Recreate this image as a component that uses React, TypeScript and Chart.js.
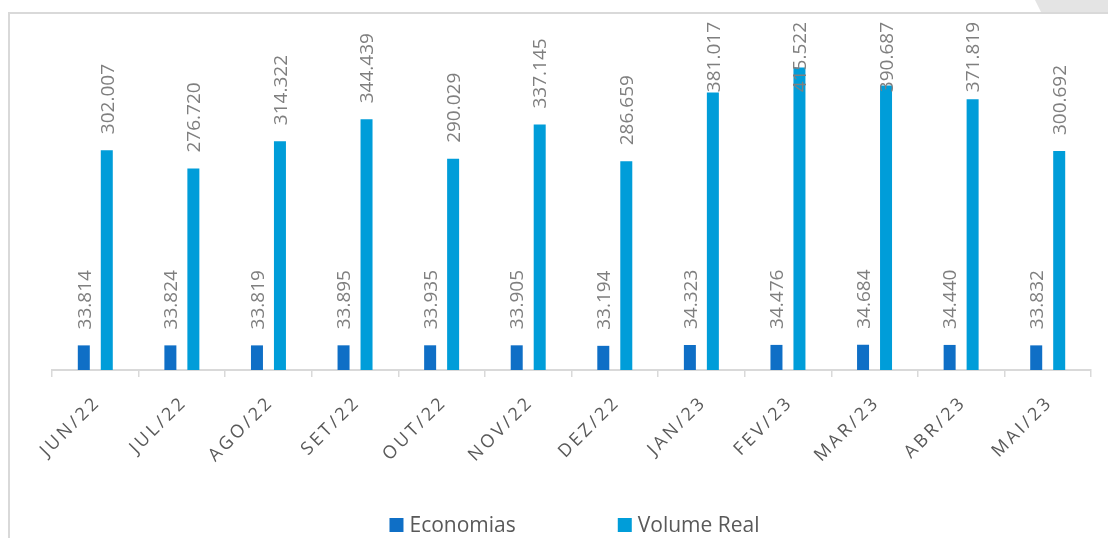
import React, { useEffect, useRef } from "react";
import { Chart, registerables } from "chart.js";

Chart.register(...registerables);

const categories = ["JUN/22", "JUL/22", "AGO/22", "SET/22", "OUT/22", "NOV/22", "DEZ/22", "JAN/23", "FEV/23", "MAR/23", "ABR/23", "MAI/23"];
const economias = [33814, 33824, 33819, 33895, 33935, 33905, 33194, 34323, 34476, 34684, 34440, 33832];
const volumeReal = [302007, 276720, 314322, 344439, 290029, 337145, 286659, 381017, 415522, 390687, 371819, 300692];
const seriesNames = ["Economias", "Volume Real"];
const seriesColors = ["#0F6FC6", "#009DD9"];

const FONT = "'Open Sans', 'DejaVu Sans', sans-serif";

function fmt(v: number): string {
  return Math.round(v).toString().replace(/\B(?=(\d{3})+(?!\d))/g, ".");
}

const customPlugin = {
  id: "customDraw",
  beforeDraw(chart: any) {
    const ctx = chart.ctx as CanvasRenderingContext2D;
    const W = chart.width;
    const H = chart.height;
    ctx.save();
    ctx.fillStyle = "#ffffff";
    ctx.fillRect(0, 0, W, H);
    ctx.fillStyle = "#e4e4e4";
    ctx.beginPath();
    ctx.moveTo(1035, 0);
    ctx.lineTo(1041, 12);
    ctx.lineTo(W, 12);
    ctx.lineTo(W, 0);
    ctx.closePath();
    ctx.fill();
    ctx.strokeStyle = "#d9d9d9";
    ctx.lineWidth = 2;
    ctx.beginPath();
    ctx.moveTo(9, H);
    ctx.lineTo(9, 13);
    ctx.lineTo(W, 13);
    ctx.stroke();
    ctx.restore();
  },
  afterDraw(chart: any) {
    const ctx = chart.ctx as CanvasRenderingContext2D;
    const xScale = chart.scales.x;
    const area = chart.chartArea;
    // x labels
    ctx.save();
    ctx.fillStyle = "#595959";
    ctx.font = `18px ${FONT}`;
    (ctx as any).letterSpacing = "3px";
    ctx.textAlign = "right";
    ctx.textBaseline = "alphabetic";
    const labels = chart.data.labels as string[];
    labels.forEach((lab, i) => {
      const x = xScale.getPixelForValue(i);
      ctx.save();
      ctx.translate(x + 6, area.bottom + 33);
      ctx.rotate(-Math.PI / 4);
      ctx.fillText(lab, 0, 0);
      ctx.restore();
    });
    ctx.restore();

    // data labels
    ctx.save();
    ctx.fillStyle = "#7f7f7f";
    const fs = 19;
    ctx.font = `${fs}px ${FONT}`;
    ctx.textAlign = "left";
    ctx.textBaseline = "alphabetic";
    const cap = fs * 0.714;
    chart.data.datasets.forEach((ds: any, di: number) => {
      const meta = chart.getDatasetMeta(di);
      meta.data.forEach((el: any, i: number) => {
        const txt = fmt(ds.data[i]);
        const w = ctx.measureText(txt).width;
        let start = el.y - 16;
        if (start - w < 22) start = 22 + w;
        ctx.save();
        ctx.translate(el.x, start);
        ctx.rotate(-Math.PI / 2);
        ctx.fillText(txt, 0, cap / 2);
        ctx.restore();
      });
    });
    ctx.restore();

    // legend
    ctx.save();
    ctx.font = `21px ${FONT}`;
    ctx.textBaseline = "alphabetic";
    ctx.textAlign = "left";
    const box = 14;
    const gapBoxText = 6;
    const gapItems = 102;
    const items = chart.data.datasets.map((ds: any) => ({
      label: ds.label,
      color: ds.backgroundColor,
      w: ctx.measureText(ds.label).width,
    }));
    const total = items.reduce((s: number, it: any) => s + box + gapBoxText + it.w, 0) + gapItems * (items.length - 1);
    let x = (area.left + area.right) / 2 - total / 2 + 3;
    const yBoxTop = 518;
    items.forEach((it: any) => {
      ctx.fillStyle = it.color;
      ctx.fillRect(x, yBoxTop, box, box);
      ctx.fillStyle = "#595959";
      ctx.fillText(it.label, x + box + gapBoxText, yBoxTop + 14);
      x += box + gapBoxText + it.w + gapItems;
    });
    ctx.restore();
  },
};

export default function App() {
  const ref = useRef<HTMLCanvasElement | null>(null);
  useEffect(() => {
    if (!ref.current) return;
    const chart = new Chart(ref.current, {
      type: "bar",
      data: {
        labels: categories,
        datasets: [
          {
            label: seriesNames[0],
            data: economias,
            backgroundColor: seriesColors[0],
            categoryPercentage: 0.531,
            barPercentage: 0.522,
          },
          {
            label: seriesNames[1],
            data: volumeReal,
            backgroundColor: seriesColors[1],
            categoryPercentage: 0.531,
            barPercentage: 0.522,
          },
        ],
      },
      options: {
        responsive: false,
        animation: false,
        layout: { padding: { top: 6, left: 52, right: 17, bottom: 158 } },
        plugins: { legend: { display: false }, tooltip: { enabled: false } },
        scales: {
          x: {
            offset: true,
            grid: {
              offset: true,
              drawOnChartArea: false,
              drawTicks: true,
              tickLength: 7,
              color: "#d9d9d9",
              lineWidth: 1.5,
            },
            border: { display: true, color: "#d9d9d9", width: 2 },
            ticks: { display: false },
            afterFit(scale: any) {
              scale.height = 10;
            },
          },
          y: {
            display: false,
            min: 0,
            max: 500000,
          },
        },
      },
      plugins: [customPlugin],
    });
    return () => chart.destroy();
  }, []);
  return (
    <div style={{ position: "absolute", left: 0, top: 0, width: 1108, height: 538, background: "#fff" }}>
      <canvas ref={ref} width={1108} height={538} style={{ display: "block" }} />
    </div>
  );
}
